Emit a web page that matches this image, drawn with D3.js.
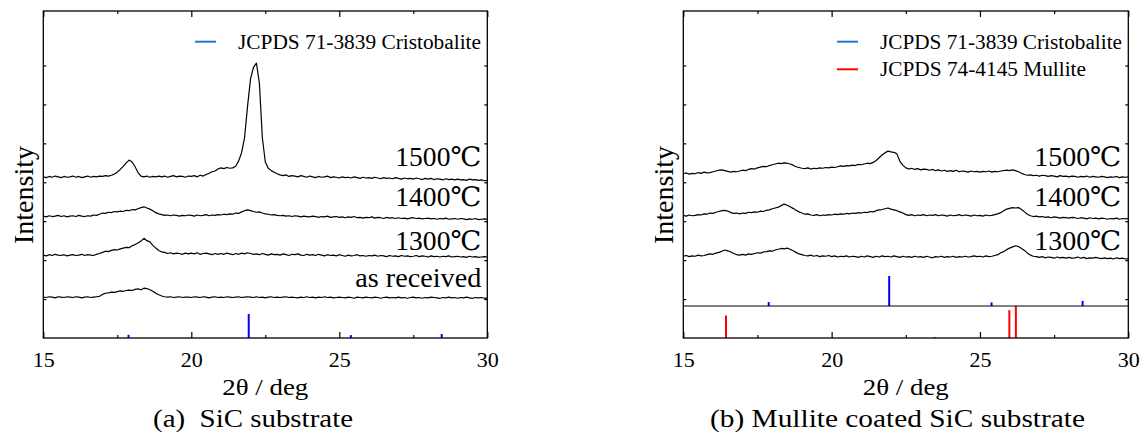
<!DOCTYPE html>
<html><head><meta charset="utf-8">
<script src="https://cdn.jsdelivr.net/npm/d3@7"></script>
<style>
body{margin:0;background:#fff}
text{font-family:"Liberation Serif","Times New Roman",serif;fill:#000;white-space:pre}
tspan.deg{font-family:"DejaVu Serif","Liberation Serif",serif}
</style>
</head><body>
<svg id="c" width="1142" height="432"></svg>
<script>
// ---------- data ----------
const twoTheta = [
15.0,15.1,15.2,15.3,15.4,15.5,15.6,15.7,15.8,15.9,
16.0,16.1,16.2,16.3,16.4,16.5,16.6,16.7,16.8,16.9,
17.0,17.1,17.2,17.3,17.4,17.5,17.6,17.7,17.8,17.9,
18.0,18.1,18.2,18.3,18.4,18.5,18.6,18.7,18.8,18.9,
19.0,19.1,19.2,19.3,19.4,19.5,19.6,19.7,19.8,19.9,
20.0,20.1,20.2,20.3,20.4,20.5,20.6,20.7,20.8,20.9,
21.0,21.1,21.2,21.3,21.4,21.5,21.6,21.7,21.8,21.9,
22.0,22.1,22.2,22.3,22.4,22.5,22.6,22.7,22.8,22.9,
23.0,23.1,23.2,23.3,23.4,23.5,23.6,23.7,23.8,23.9,
24.0,24.1,24.2,24.3,24.4,24.5,24.6,24.7,24.8,24.9,
25.0,25.1,25.2,25.3,25.4,25.5,25.6,25.7,25.8,25.9,
26.0,26.1,26.2,26.3,26.4,26.5,26.6,26.7,26.8,26.9,
27.0,27.1,27.2,27.3,27.4,27.5,27.6,27.7,27.8,27.9,
28.0,28.1,28.2,28.3,28.4,28.5,28.6,28.7,28.8,28.9,
29.0,29.1,29.2,29.3,29.4,29.5,29.6,29.7,29.8,29.9,
30.0];

// (a) SiC substrate, stacked intensity (a.u.)
const sicAsReceived = [
1.05,1.04,1.06,1.05,1.03,1.06,1.05,1.04,1.06,1.05,
1.04,1.06,1.05,1.03,1.05,1.06,1.04,1.05,1.06,1.07,
1.12,1.15,1.16,1.18,1.17,1.19,1.21,1.20,1.22,1.23,
1.22,1.25,1.26,1.24,1.28,1.27,1.24,1.20,1.15,1.11,
1.08,1.06,1.05,1.06,1.04,1.05,1.06,1.04,1.05,1.05,
1.04,1.06,1.05,1.04,1.06,1.05,1.03,1.05,1.06,1.04,
1.05,1.04,1.06,1.05,1.04,1.05,1.06,1.04,1.05,1.06,
1.05,1.04,1.06,1.04,1.05,1.03,1.05,1.06,1.04,1.05,
1.04,1.05,1.06,1.04,1.05,1.04,1.03,1.05,1.04,1.06,
1.04,1.05,1.03,1.05,1.04,1.06,1.04,1.05,1.03,1.04,
1.05,1.04,1.03,1.05,1.04,1.02,1.05,1.04,1.03,1.05,
1.04,1.03,1.05,1.04,1.02,1.04,1.05,1.03,1.04,1.03,
1.05,1.03,1.04,1.02,1.04,1.05,1.03,1.04,1.02,1.04,
1.03,1.05,1.04,1.03,1.02,1.04,1.03,1.05,1.03,1.04,
1.02,1.04,1.03,1.05,1.03,1.02,1.04,1.03,1.04,1.02,
1.03];
const sic1300 = [
2.13,2.11,2.14,2.12,2.15,2.13,2.12,2.14,2.11,2.13,
2.14,2.12,2.13,2.15,2.12,2.14,2.13,2.12,2.15,2.17,
2.20,2.23,2.22,2.25,2.27,2.26,2.29,2.31,2.33,2.32,
2.37,2.40,2.44,2.49,2.56,2.50,2.47,2.38,2.31,2.25,
2.21,2.20,2.17,2.19,2.16,2.18,2.17,2.15,2.18,2.16,
2.18,2.16,2.19,2.15,2.17,2.18,2.16,2.14,2.17,2.15,
2.17,2.15,2.18,2.16,2.14,2.17,2.15,2.18,2.16,2.19,
2.17,2.15,2.16,2.14,2.17,2.15,2.13,2.16,2.14,2.15,
2.13,2.16,2.14,2.12,2.15,2.14,2.16,2.13,2.12,2.15,
2.13,2.14,2.12,2.15,2.13,2.11,2.14,2.12,2.13,2.11,
2.14,2.12,2.10,2.13,2.11,2.12,2.14,2.11,2.12,2.10,
2.12,2.11,2.13,2.10,2.12,2.11,2.09,2.12,2.10,2.11,
2.09,2.12,2.10,2.11,2.09,2.10,2.12,2.09,2.11,2.10,
2.08,2.11,2.09,2.10,2.08,2.10,2.09,2.11,2.08,2.09,
2.10,2.08,2.09,2.07,2.10,2.08,2.09,2.07,2.08,2.09,
2.08];
const sic1400 = [
3.13,3.11,3.14,3.12,3.13,3.15,3.12,3.14,3.11,3.13,
3.14,3.12,3.15,3.13,3.12,3.14,3.13,3.16,3.15,3.18,
3.21,3.20,3.23,3.22,3.25,3.24,3.26,3.25,3.28,3.27,
3.30,3.29,3.32,3.35,3.37,3.34,3.31,3.27,3.22,3.19,
3.17,3.15,3.16,3.14,3.16,3.15,3.13,3.15,3.14,3.16,
3.15,3.13,3.16,3.14,3.15,3.17,3.14,3.16,3.15,3.17,
3.16,3.18,3.17,3.19,3.18,3.21,3.20,3.24,3.27,3.29,
3.27,3.25,3.23,3.24,3.21,3.19,3.18,3.16,3.17,3.15,
3.14,3.15,3.13,3.14,3.12,3.14,3.13,3.11,3.13,3.12,
3.11,3.13,3.12,3.10,3.12,3.11,3.13,3.10,3.11,3.12,
3.10,3.11,3.09,3.11,3.10,3.12,3.09,3.10,3.08,3.10,
3.09,3.11,3.08,3.10,3.09,3.07,3.10,3.08,3.09,3.07,
3.09,3.07,3.08,3.06,3.08,3.09,3.07,3.08,3.06,3.07,
3.08,3.06,3.07,3.05,3.07,3.06,3.08,3.05,3.06,3.07,
3.05,3.07,3.06,3.04,3.06,3.05,3.07,3.04,3.05,3.06,
3.05];
const sic1500 = [
4.14,4.12,4.15,4.13,4.16,4.14,4.12,4.15,4.13,4.14,
4.16,4.13,4.15,4.12,4.14,4.16,4.13,4.15,4.14,4.16,
4.15,4.17,4.16,4.18,4.21,4.26,4.33,4.41,4.50,4.57,
4.52,4.40,4.25,4.16,4.14,4.16,4.13,4.15,4.14,4.16,
4.14,4.16,4.13,4.15,4.17,4.14,4.16,4.15,4.13,4.16,
4.15,4.17,4.14,4.18,4.16,4.20,4.23,4.27,4.29,4.34,
4.37,4.35,4.38,4.36,4.37,4.41,4.55,4.76,5.15,5.95,
6.65,6.95,7.06,6.55,5.15,4.52,4.36,4.30,4.26,4.22,
4.19,4.17,4.19,4.15,4.17,4.16,4.14,4.17,4.15,4.13,
4.16,4.14,4.12,4.15,4.13,4.14,4.16,4.12,4.14,4.13,
4.11,4.14,4.12,4.13,4.11,4.14,4.12,4.10,4.13,4.11,
4.12,4.10,4.13,4.11,4.09,4.12,4.10,4.11,4.09,4.12,
4.10,4.08,4.11,4.09,4.10,4.08,4.11,4.09,4.07,4.10,
4.08,4.10,4.07,4.09,4.08,4.06,4.09,4.07,4.08,4.06,
4.08,4.06,4.07,4.05,4.08,4.06,4.07,4.05,4.06,4.04,
4.05];

// (b) Mullite coated SiC substrate
const mul1300 = [
2.10,2.12,2.09,2.11,2.10,2.13,2.11,2.12,2.14,2.16,
2.15,2.18,2.20,2.23,2.26,2.24,2.21,2.17,2.14,2.13,
2.15,2.13,2.16,2.15,2.17,2.19,2.18,2.21,2.22,2.24,
2.23,2.26,2.28,2.30,2.29,2.31,2.28,2.24,2.20,2.16,
2.14,2.12,2.11,2.13,2.10,2.12,2.09,2.11,2.10,2.12,
2.09,2.11,2.08,2.10,2.09,2.11,2.08,2.10,2.09,2.07,
2.10,2.08,2.11,2.09,2.07,2.10,2.08,2.11,2.09,2.10,
2.08,2.11,2.09,2.07,2.10,2.08,2.09,2.07,2.10,2.08,
2.09,2.07,2.10,2.08,2.06,2.09,2.08,2.10,2.07,2.09,
2.08,2.10,2.07,2.09,2.08,2.10,2.08,2.09,2.11,2.09,
2.10,2.08,2.11,2.09,2.10,2.12,2.14,2.19,2.22,2.27,
2.31,2.34,2.37,2.35,2.30,2.25,2.18,2.13,2.10,2.09,
2.07,2.09,2.06,2.08,2.07,2.05,2.08,2.06,2.07,2.05,
2.07,2.05,2.06,2.08,2.05,2.07,2.04,2.06,2.05,2.07,
2.05,2.04,2.06,2.04,2.05,2.03,2.06,2.04,2.05,2.03,
2.04];
const mul1400 = [
3.15,3.13,3.16,3.14,3.15,3.17,3.16,3.19,3.18,3.21,
3.20,3.23,3.25,3.27,3.28,3.26,3.22,3.20,3.21,3.19,
3.21,3.20,3.23,3.22,3.24,3.23,3.26,3.25,3.28,3.29,
3.32,3.34,3.36,3.40,3.44,3.41,3.37,3.33,3.28,3.24,
3.21,3.18,3.19,3.16,3.15,3.17,3.14,3.16,3.15,3.17,
3.16,3.18,3.17,3.19,3.18,3.20,3.19,3.21,3.20,3.22,
3.21,3.23,3.22,3.25,3.24,3.27,3.29,3.30,3.32,3.34,
3.31,3.29,3.27,3.24,3.21,3.17,3.15,3.17,3.14,3.16,
3.15,3.17,3.14,3.16,3.15,3.17,3.14,3.16,3.15,3.13,
3.16,3.14,3.15,3.17,3.14,3.16,3.15,3.13,3.16,3.14,
3.15,3.13,3.16,3.14,3.15,3.17,3.19,3.22,3.27,3.31,
3.33,3.35,3.34,3.35,3.30,3.24,3.18,3.14,3.12,3.13,
3.11,3.12,3.10,3.11,3.09,3.11,3.10,3.08,3.10,3.09,
3.08,3.10,3.09,3.07,3.09,3.08,3.06,3.09,3.07,3.08,
3.06,3.08,3.07,3.05,3.07,3.06,3.08,3.05,3.07,3.06,
3.07];
const mul1500 = [
4.22,4.24,4.21,4.23,4.22,4.25,4.23,4.26,4.24,4.25,
4.27,4.29,4.31,4.32,4.30,4.28,4.26,4.28,4.27,4.29,
4.31,4.30,4.33,4.35,4.34,4.37,4.39,4.41,4.40,4.43,
4.45,4.47,4.49,4.48,4.50,4.49,4.47,4.44,4.40,4.38,
4.36,4.35,4.37,4.34,4.36,4.35,4.37,4.36,4.38,4.37,
4.39,4.38,4.40,4.42,4.41,4.43,4.42,4.44,4.43,4.46,
4.45,4.47,4.49,4.48,4.51,4.56,4.63,4.70,4.76,4.80,
4.78,4.77,4.73,4.54,4.44,4.37,4.34,4.36,4.33,4.35,
4.32,4.34,4.33,4.31,4.33,4.30,4.32,4.29,4.31,4.28,
4.30,4.28,4.31,4.27,4.29,4.28,4.26,4.29,4.27,4.28,
4.26,4.28,4.27,4.29,4.26,4.28,4.27,4.29,4.30,4.31,
4.30,4.32,4.30,4.27,4.23,4.20,4.18,4.19,4.17,4.18,
4.16,4.18,4.17,4.15,4.17,4.16,4.14,4.17,4.15,4.16,
4.14,4.16,4.15,4.13,4.15,4.14,4.16,4.13,4.15,4.14,
4.13,4.15,4.14,4.12,4.14,4.13,4.15,4.12,4.14,4.13,
4.14];

// reference patterns (relative intensity, %)
const cristobaliteAngles = [17.88, 21.94, 25.39, 28.46];
const cristobaliteRel    = [13, 100, 12, 17];
const mulliteAngles      = [16.44, 23.48, 25.99, 26.21];
const mulliteRel         = [70, 3, 87, 100];

const xTickValues = [15, 20, 25, 30];
const xMinorTickValues = [17.5, 22.5, 27.5];
const yTickValues = [1, 2, 3, 4, 5, 6, 7];
const sicLabels = ["1500℃", "1400℃", "1300℃", "as received"];
const mulLabels = ["1500℃", "1400℃", "1300℃"];
const legendNames = ["JCPDS 71-3839 Cristobalite", "JCPDS 74-4145 Mullite"];
const xTitle = "2θ / deg";
const yTitle = "Intensity";
const captions = ["(a)  SiC substrate", "(b) Mullite coated SiC substrate"];

// ---------- drawing ----------
const svg = d3.select("#c");
const BLUE = "#0000ff", RED = "#ff0000", LEGBLUE = "#1f78d4";

function fit(t, w) { t.attr("textLength", w).attr("lengthAdjust", "spacingAndGlyphs"); return t; }

function panel(cfg) {
  const g = svg.append("g");
  const x = d3.scaleLinear().domain([15, 30]).range([cfg.x0, cfg.x1]);
  const y = d3.scaleLinear().domain([0, 8.4]).range([cfg.yb, cfg.yt]);
  const line = d3.line().x(d => x(d[0])).y(d => y(d[1]));

  // traces
  cfg.series.forEach(s => {
    g.append("path").datum(d3.zip(twoTheta, s)).attr("d", line)
      .attr("fill", "none").attr("stroke", "#000").attr("stroke-width", 1.2)
      .attr("stroke-linejoin", "round");
  });

  // sticks
  cfg.sticks.forEach(st => {
    const sy = d3.scaleLinear().domain([0, 100]).range(st.range);
    g.selectAll(null).data(d3.zip(st.angles, st.rel)).join("line")
      .attr("x1", d => x(d[0])).attr("x2", d => x(d[0]))
      .attr("y1", sy(0)).attr("y2", d => sy(d[1]))
      .attr("stroke", st.color).attr("stroke-width", 2);
  });
  if (cfg.divider != null) {
    g.append("line").attr("x1", cfg.x0).attr("x2", cfg.x1)
      .attr("y1", cfg.divider).attr("y2", cfg.divider)
      .attr("stroke", "#000").attr("stroke-width", 1.2);
  }

  // axes (ticks inward)
  const ax = g.append("g").attr("transform", `translate(0,${cfg.yb})`)
    .call(d3.axisBottom(x).tickValues(xTickValues).tickSize(-6).tickPadding(14).tickFormat(d3.format("d")));
  ax.select(".domain").remove();
  ax.selectAll("text").attr("font-size", 22).attr("dy", 0).attr("y", 29);
  const axm = g.append("g").attr("transform", `translate(0,${cfg.yb})`)
    .call(d3.axisBottom(x).tickValues(xMinorTickValues).tickSize(-3).tickFormat(""));
  axm.select(".domain").remove();
  const at = g.append("g").attr("transform", `translate(0,${cfg.yt})`)
    .call(d3.axisTop(x).tickValues(xTickValues).tickSize(-6).tickFormat(""));
  at.select(".domain").remove();
  const atm = g.append("g").attr("transform", `translate(0,${cfg.yt})`)
    .call(d3.axisTop(x).tickValues(xMinorTickValues).tickSize(-3).tickFormat(""));
  atm.select(".domain").remove();
  const al = g.append("g").attr("transform", `translate(${cfg.x0},0)`)
    .call(d3.axisLeft(y).tickValues(yTickValues).tickSize(-3).tickFormat(""));
  al.select(".domain").remove();
  const ar = g.append("g").attr("transform", `translate(${cfg.x1},0)`)
    .call(d3.axisRight(y).tickValues(yTickValues).tickSize(-3).tickFormat(""));
  ar.select(".domain").remove();
  g.selectAll(".tick line").attr("stroke", "#000").attr("stroke-width", 1.2);

  g.append("rect").attr("x", cfg.x0).attr("y", cfg.yt)
    .attr("width", cfg.x1 - cfg.x0).attr("height", cfg.yb - cfg.yt)
    .attr("fill", "none").attr("stroke", "#000").attr("stroke-width", 1.3);

  // curve labels
  cfg.labels.forEach((lab, i) => {
    const t = g.append("text").attr("x", cfg.x1 - cfg.labelInset).attr("y", cfg.labelY[i])
      .attr("text-anchor", "end").attr("font-size", 27);
    const m = lab.match(/^(.*?)(℃?)$/);
    t.append("tspan").text(m[1]);
    if (m[2]) t.append("tspan").attr("class", "deg").text(m[2]);
    fit(t, cfg.labelW[i]);
  });

  // legend
  cfg.legend.forEach((lg, i) => {
    const ly = 41.7 + i * 27.6;
    g.append("line").attr("x1", cfg.legX).attr("x2", cfg.legX + 21)
      .attr("y1", ly).attr("y2", ly).attr("stroke", lg.color).attr("stroke-width", 2);
    const t = g.append("text").attr("x", cfg.legX + 43).attr("y", ly + 6.8)
      .attr("font-size", 20).text(lg.name);
    fit(t, lg.w);
  });

  // titles
  const cx = (cfg.x0 + cfg.x1) / 2;
  fit(g.append("text").attr("x", cx).attr("y", 395).attr("text-anchor", "middle")
    .attr("font-size", 24).text(xTitle), 86);
  fit(g.append("text").attr("transform", `translate(${cfg.x0 - 10},195) rotate(-90)`)
    .attr("text-anchor", "middle").attr("font-size", 28).text(yTitle), 98);
  fit(g.append("text").attr("x", cfg.capX).attr("y", 427).attr("text-anchor", "middle")
    .attr("font-size", 25).text(cfg.caption), cfg.capW);
}

panel({
  x0: 43.3, x1: 487.3, yt: 11, yb: 338,
  series: [sicAsReceived, sic1300, sic1400, sic1500],
  sticks: [{angles: cristobaliteAngles, rel: cristobaliteRel, color: BLUE, range: [338, 314]}],
  divider: null,
  labels: sicLabels, labelInset: 6, labelY: [165.5, 206, 249.5, 287.3], labelW: [86, 86, 86, 126],
  legX: 195, legend: [{name: legendNames[0], color: LEGBLUE, w: 243}],
  caption: captions[0], capX: 253, capW: 200
});
panel({
  x0: 683.3, x1: 1128.3, yt: 11, yb: 338,
  series: [mul1300, mul1400, mul1500],
  sticks: [
    {angles: cristobaliteAngles, rel: cristobaliteRel, color: BLUE, range: [306, 276]},
    {angles: mulliteAngles, rel: mulliteRel, color: RED, range: [338, 306]}
  ],
  divider: 306,
  labels: mulLabels, labelInset: 7, labelY: [165.5, 206, 249.5], labelW: [87, 87, 87],
  legX: 837, legend: [{name: legendNames[0], color: LEGBLUE, w: 242}, {name: legendNames[1], color: RED, w: 206}],
  caption: captions[1], capX: 897.5, capW: 375
});
</script>
</body></html>
